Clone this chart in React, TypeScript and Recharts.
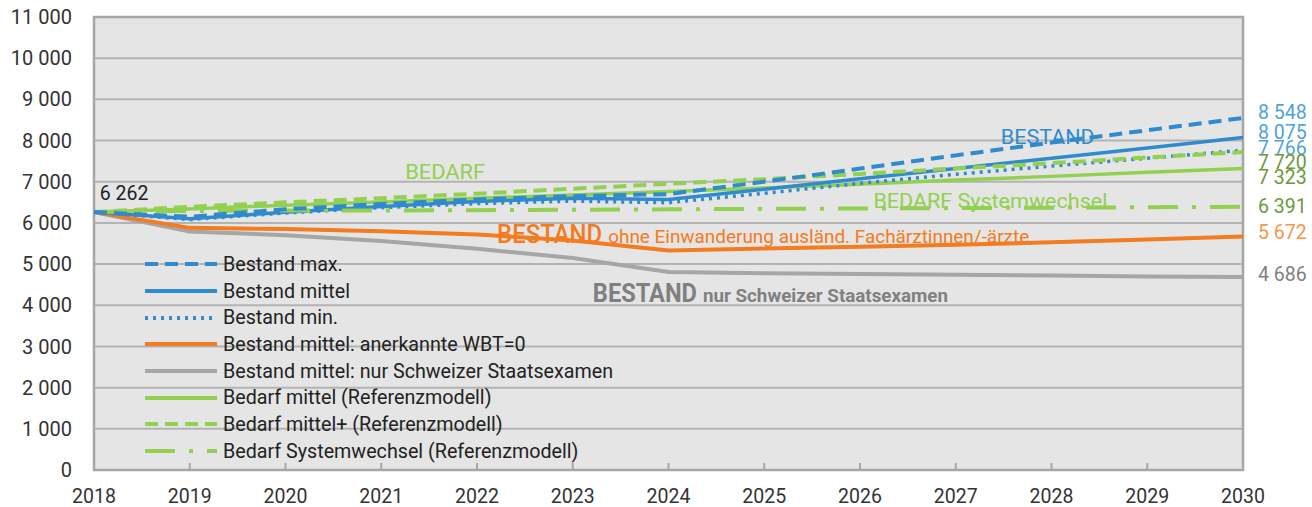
import React from "react";
import {
  LineChart,
  Line,
  XAxis,
  YAxis,
  CartesianGrid,
  Legend,
  ReferenceArea,
  ReferenceDot,
} from "recharts";

const years = [2018, 2019, 2020, 2021, 2022, 2023, 2024, 2025, 2026, 2027, 2028, 2029, 2030];
const yTicks = [0, 1000, 2000, 3000, 4000, 5000, 6000, 7000, 8000, 9000, 10000, 11000];

const bestandMax = [6262, 6150, 6330, 6460, 6570, 6650, 6700, 7000, 7320, 7640, 7950, 8250, 8548];
const bestandMittel = [6262, 6100, 6260, 6400, 6520, 6600, 6570, 6820, 7070, 7320, 7570, 7820, 8075];
const bestandMin = [6262, 6080, 6240, 6370, 6470, 6530, 6490, 6720, 6960, 7180, 7380, 7570, 7766];
const bestandWbt0 = [6262, 5880, 5850, 5800, 5720, 5570, 5330, 5380, 5420, 5470, 5530, 5600, 5672];
const bestandSchweiz = [6262, 5790, 5700, 5560, 5370, 5150, 4810, 4780, 4760, 4740, 4720, 4700, 4686];
const bedarfMittel = [6262, 6340, 6430, 6510, 6600, 6680, 6760, 6850, 6940, 7040, 7130, 7230, 7323];
const bedarfPlus = [6262, 6390, 6500, 6600, 6710, 6830, 6950, 7060, 7190, 7320, 7450, 7590, 7720];
const bedarfSystem = [6262, 6290, 6300, 6300, 6310, 6320, 6330, 6340, 6350, 6360, 6370, 6380, 6391];

const BLUE = "#2f8bcd";
const ORANGE = "#f47b20";
const GREY = "#a6a6a6";
const GREEN = "#92d050";

// legend order
const series = [
  { key: "max", name: "Bestand max.", values: bestandMax, color: BLUE, width: 4, dash: "13 7", labelColor: "#4fa2dc", dy: -5 },
  { key: "mittel", name: "Bestand mittel", values: bestandMittel, color: BLUE, width: 3.5, dash: undefined, labelColor: "#4fa2dc", dy: -4.5 },
  { key: "min", name: "Bestand min.", values: bestandMin, color: BLUE, width: 3.5, dash: "3 5", labelColor: "#4fa2dc", dy: -2 },
  { key: "wbt0", name: "Bestand mittel: anerkannte WBT=0", values: bestandWbt0, color: ORANGE, width: 4, dash: undefined, labelColor: "#f7964a", dy: -3.5 },
  { key: "schweiz", name: "Bestand mittel: nur Schweizer Staatsexamen", values: bestandSchweiz, color: GREY, width: 4, dash: undefined, labelColor: "#808080", dy: -3 },
  { key: "bedarf", name: "Bedarf mittel (Referenzmodell)", values: bedarfMittel, color: GREEN, width: 3.5, dash: undefined, labelColor: "#6b9a3a", dy: 9 },
  { key: "bedarfPlus", name: "Bedarf mittel+ (Referenzmodell)", values: bedarfPlus, color: GREEN, width: 4, dash: "13 7", labelColor: "#6b9a3a", dy: 10 },
  { key: "system", name: "Bedarf Systemwechsel (Referenzmodell)", values: bedarfSystem, color: GREEN, width: 4, dash: "30 14 4 14", labelColor: "#6b9a3a", dy: 0 },
];

const drawOrder = ["schweiz", "wbt0", "bedarf", "min", "mittel", "system", "bedarfPlus", "max"];

const data = years.map((year, i) => {
  const row: any = { year };
  series.forEach((s) => (row[s.key] = s.values[i]));
  return row;
});

// text inside the plot, anchored in data units (x = year, y = baseline value)
const notes = [
  { text: "6 262", x: 2018.06, y: 6556, size: 19.5, weight: 400, color: "#222", len: 0 },
  { text: "BEDARF", x: 2021.25, y: 7066, size: 20, weight: 400, color: GREEN, len: 80 },
  { text: "BESTAND", x: 2027.47, y: 7916, size: 21, weight: 400, color: BLUE, len: 94 },
  { text: "BEDARF Systemwechsel", x: 2026.14, y: 6362, size: 21, weight: 400, color: GREEN, len: 234 },
  { text: "BESTAND", x: 2022.21, y: 5512, size: 25, weight: 500, color: ORANGE, len: 105 },
  { text: "ohne Einwanderung ausländ. Fachärztinnen/-ärzte", x: 2023.37, y: 5512, size: 19, weight: 400, color: ORANGE, len: 421 },
  { text: "BESTAND", x: 2023.21, y: 4080, size: 25, weight: 700, color: "#808080", len: 104 },
  { text: "nur Schweizer Staatsexamen", x: 2024.36, y: 4080, size: 18, weight: 700, color: "#808080", len: 245 },
];

const fmt = (v: number) => String(v).replace(/\B(?=(\d{3})+(?!\d))/g, " ");

const XTick = ({ x, y, payload }: any) => (
  <g>
    {payload.value !== 2018 && payload.value !== 2030 && (
      <line x1={x} x2={x} y1={y} y2={y - 7} stroke={GREY} strokeWidth={2} />
    )}
    <text x={x} y={y + 33} textAnchor="middle" fontSize={19.5} fill="#333">
      {payload.value}
    </text>
  </g>
);

const endLabel = (s: any) => (props: any) => {
  const { x, y, index } = props;
  if (index !== years.length - 1) return null;
  return (
    <text x={x + 15} y={y + s.dy} dominantBaseline="central" fontSize={19.5} fill={s.labelColor}>
      {fmt(s.values[index])}
    </text>
  );
};

const LegendBox = () => (
  <div style={{ fontFamily: "Roboto, sans-serif" }}>
    {series.map((s) => (
      <div key={s.key} style={{ display: "flex", alignItems: "center", height: 26.7 }}>
        <svg width={76} height={10} style={{ marginRight: 2 }}>
          <line x1={0} x2={72} y1={5} y2={5} stroke={s.color} strokeWidth={4} strokeDasharray={s.dash} />
        </svg>
        <span style={{ fontSize: 19.7, color: "#222", whiteSpace: "nowrap" }}>{s.name}</span>
      </div>
    ))}
  </div>
);

export default function App() {
  return (
    <div style={{ position: "absolute", left: 0, top: 0, width: 1312, height: 507, background: "#fff", fontFamily: "Roboto, sans-serif" }}>
      <LineChart width={1312} height={507} data={data} margin={{ top: 17, right: 69, left: 0, bottom: 0 }}>
        <CartesianGrid horizontal vertical={false} stroke="#b3b3b3" strokeWidth={2} fill="#e5e5e5" />
        <XAxis
          dataKey="year"
          type="number"
          domain={[2018, 2030]}
          ticks={years}
          height={37}
          axisLine={false}
          tickLine={false}
          tickSize={0}
          tickMargin={0}
          tick={<XTick />}
          interval={0}
        />
        <YAxis
          type="number"
          domain={[0, 11000]}
          ticks={yTicks}
          width={94}
          axisLine={false}
          tickLine={false}
          tickSize={0}
          tickMargin={22}
          tickFormatter={fmt}
          tick={{ fontSize: 20, fill: "#333" }}
          interval={0}
        />
        <ReferenceArea x1={2018} x2={2030} y1={0} y2={11000} fill="none" stroke={GREY} strokeWidth={2.5} />
        {drawOrder.map((k) => {
          const s = series.find((d) => d.key === k)!;
          return (
            <Line
              key={s.key}
              dataKey={s.key}
              name={s.name}
              type="linear"
              stroke={s.color}
              strokeWidth={s.width}
              strokeDasharray={s.dash}
              dot={false}
              activeDot={false}
              isAnimationActive={false}
              label={endLabel(s)}
            />
          );
        })}
        {notes.map((n, i) => (
          <ReferenceDot
            key={i}
            x={n.x}
            y={n.y}
            r={0}
            shape={(p: any) => (
              <text
                x={p.cx}
                y={p.cy}
                fontSize={n.size}
                fontWeight={n.weight}
                fill={n.color}
                textLength={n.len || undefined}
                lengthAdjust="spacingAndGlyphs"
              >
                {n.text}
              </text>
            )}
          />
        ))}
        <Legend
          layout="vertical"
          align="center"
          verticalAlign="middle"
          content={<LegendBox />}
          wrapperStyle={{ left: 145, top: 251, width: 560 }}
        />
      </LineChart>
    </div>
  );
}
